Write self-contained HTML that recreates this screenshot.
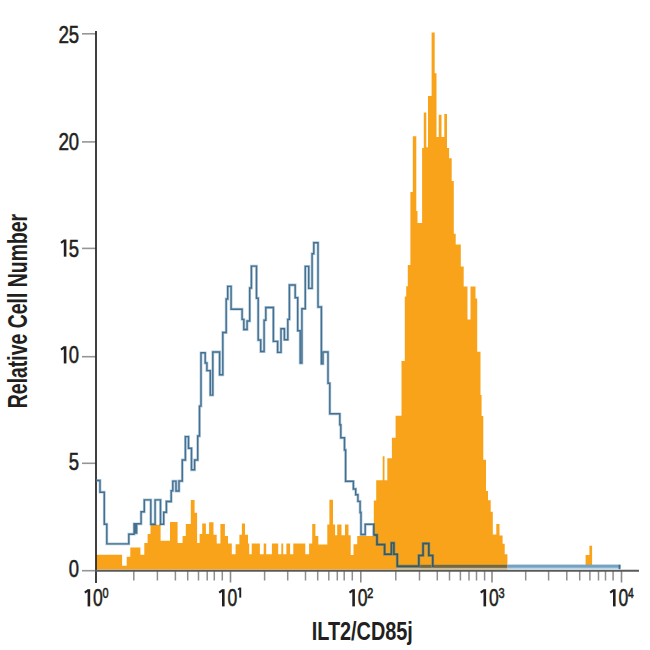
<!DOCTYPE html>
<html><head><meta charset="utf-8"><style>
html,body{margin:0;padding:0;background:#fff;}
body{width:650px;height:650px;position:relative;overflow:hidden;font-family:"Liberation Sans",sans-serif;color:#231f20;}
svg{position:absolute;left:0;top:0;}
</style></head><body>
<svg width="650" height="650" viewBox="0 0 650 650">
<path d="M96,569.5 L96,554.7 L122.1,554.7 L122.1,565.8 L126.7,565.8 L126.7,556.7 L130.3,556.7 L130.3,547.6 L140.4,547.6 L140.4,554.7 L144.3,554.7 L144.3,543 L147.6,543 L147.6,534 L150.5,534 L150.5,524.7 L160.6,524.7 L160.6,540.8 L170,540.8 L170,522.1 L177.6,522.1 L177.6,543 L182.6,543 L182.6,536 L185.8,536 L185.8,524 L190.8,524 L190.8,500.1 L194.6,500.1 L194.6,512.7 L197.1,512.7 L197.1,543 L199.6,543 L199.6,534.1 L202.2,534.1 L202.2,523.4 L205.9,523.4 L205.9,534.1 L209.1,534.1 L209.1,522.2 L213.5,522.2 L213.5,534.8 L216.7,534.8 L216.7,543.6 L220.4,543.6 L220.4,524 L224.9,524 L224.9,536 L228,536 L228,543.6 L231.8,543.6 L231.8,554.3 L235.6,554.3 L235.6,544.2 L239.4,544.2 L239.4,534.8 L241.9,534.8 L241.9,523.4 L245,523.4 L245,534.8 L248,534.8 L248,543.6 L249.2,543.6 L249.2,554.3 L251.7,554.3 L251.7,543.6 L259.9,543.6 L259.9,554.3 L263.7,554.3 L263.7,543.6 L266.2,543.6 L266.2,554.3 L271.9,554.3 L271.9,543.6 L278.2,543.6 L278.2,554.3 L281.3,554.3 L281.3,543.6 L283.2,543.6 L283.2,554.3 L286.4,554.3 L286.4,543.6 L290.1,543.6 L290.1,554.3 L293.3,554.3 L293.3,543.6 L305.3,543.6 L305.3,554.3 L309.1,554.3 L309.1,543.6 L312.2,543.6 L312.2,524 L315.4,524 L315.4,536 L318.3,536 L318.3,544.4 L327.3,544.4 L327.3,524.6 L329.4,524.6 L329.4,499.8 L333,499.8 L333,524.6 L335.1,524.6 L335.1,535.2 L337.2,535.2 L337.2,524.6 L341.5,524.6 L341.5,535.2 L345,535.2 L345,524.6 L348.5,524.6 L348.5,535.2 L350.7,535.2 L350.7,555 L353.5,555 L353.5,544.3 L357.2,544.3 L357.2,536 L373.8,536 L373.8,500.5 L376.2,500.5 L376.2,480.3 L382.7,480.3 L382.7,456.3 L384.5,456.3 L384.5,480.3 L387.3,480.3 L387.3,458.2 L391.9,458.2 L391.9,437.8 L395.6,437.8 L395.6,415.7 L401.5,415.7 L401.5,361 L404.8,361 L404.8,296.4 L406.2,296.4 L406.2,286.3 L407.8,286.3 L407.8,265 L410.4,265 L410.4,192.1 L412.8,192.1 L412.8,136.3 L416.3,136.3 L416.3,211 L417.5,211 L417.5,223 L422.1,223 L422.1,148.1 L423.8,148.1 L423.8,112.6 L426.3,112.6 L426.3,147.3 L428,147.3 L428,96 L431.6,96 L431.6,32.6 L434.7,32.6 L434.7,73.2 L436.5,73.2 L436.5,137.1 L438.7,137.1 L438.7,114.7 L441.5,114.7 L441.5,137.1 L444.3,137.1 L444.3,114 L447,114 L447,148.1 L449.1,148.1 L449.1,158.3 L451.7,158.3 L451.7,181.1 L453.8,181.1 L453.8,233.8 L455.7,233.8 L455.7,244.5 L460.8,244.5 L460.8,266.5 L463.7,266.5 L463.7,286.5 L467.5,286.5 L467.5,319.5 L470.5,319.5 L470.5,286.5 L475.5,286.5 L475.5,298.4 L477.2,298.4 L477.2,351.8 L480.5,351.8 L480.5,395 L481.6,395 L481.6,416.1 L483.3,416.1 L483.3,459.7 L486,459.7 L486,490.9 L488,490.9 L488,500.2 L490.7,500.2 L490.7,511.7 L492.8,511.7 L492.8,534.5 L496.3,534.5 L496.3,524.1 L499.5,524.1 L499.5,535.5 L502.6,535.5 L502.6,543.8 L504.7,543.8 L504.7,554.2 L507.4,554.2 L507.4,569.5 Z" fill="#f9a31b"/>
<path d="M585.6,565.5 L585.6,554.9 L589.4,554.9 L589.4,545.8 L592.1,545.8 L592.1,565.5 Z" fill="#f9a31b"/>
<line x1="133.8" y1="571" x2="133.8" y2="580.5" stroke="#8e8e8e" stroke-width="1.5"/><line x1="157.4" y1="571" x2="157.4" y2="580.5" stroke="#8e8e8e" stroke-width="1.5"/><line x1="175.4" y1="571" x2="175.4" y2="580.5" stroke="#8e8e8e" stroke-width="1.5"/><line x1="187.7" y1="571" x2="187.7" y2="580.5" stroke="#8e8e8e" stroke-width="1.5"/><line x1="198.5" y1="571" x2="198.5" y2="580.5" stroke="#8e8e8e" stroke-width="1.5"/><line x1="207.2" y1="571" x2="207.2" y2="580.5" stroke="#8e8e8e" stroke-width="1.5"/><line x1="214.3" y1="571" x2="214.3" y2="580.5" stroke="#8e8e8e" stroke-width="1.5"/><line x1="222.3" y1="571" x2="222.3" y2="580.5" stroke="#8e8e8e" stroke-width="1.5"/><line x1="264.6" y1="571" x2="264.6" y2="580.5" stroke="#8e8e8e" stroke-width="1.5"/><line x1="287.7" y1="571" x2="287.7" y2="580.5" stroke="#8e8e8e" stroke-width="1.5"/><line x1="305.5" y1="571" x2="305.5" y2="580.5" stroke="#8e8e8e" stroke-width="1.5"/><line x1="317.7" y1="571" x2="317.7" y2="580.5" stroke="#8e8e8e" stroke-width="1.5"/><line x1="328.8" y1="571" x2="328.8" y2="580.5" stroke="#8e8e8e" stroke-width="1.5"/><line x1="337.3" y1="571" x2="337.3" y2="580.5" stroke="#8e8e8e" stroke-width="1.5"/><line x1="344.2" y1="571" x2="344.2" y2="580.5" stroke="#8e8e8e" stroke-width="1.5"/><line x1="352.3" y1="571" x2="352.3" y2="580.5" stroke="#8e8e8e" stroke-width="1.5"/><line x1="395.8" y1="571" x2="395.8" y2="580.5" stroke="#8e8e8e" stroke-width="1.5"/><line x1="419.5" y1="571" x2="419.5" y2="580.5" stroke="#8e8e8e" stroke-width="1.5"/><line x1="437.3" y1="571" x2="437.3" y2="580.5" stroke="#8e8e8e" stroke-width="1.5"/><line x1="449.5" y1="571" x2="449.5" y2="580.5" stroke="#8e8e8e" stroke-width="1.5"/><line x1="460.4" y1="571" x2="460.4" y2="580.5" stroke="#8e8e8e" stroke-width="1.5"/><line x1="469.0" y1="571" x2="469.0" y2="580.5" stroke="#8e8e8e" stroke-width="1.5"/><line x1="476.5" y1="571" x2="476.5" y2="580.5" stroke="#8e8e8e" stroke-width="1.5"/><line x1="484.6" y1="571" x2="484.6" y2="580.5" stroke="#8e8e8e" stroke-width="1.5"/><line x1="525.7" y1="571" x2="525.7" y2="580.5" stroke="#8e8e8e" stroke-width="1.5"/><line x1="548.6" y1="571" x2="548.6" y2="580.5" stroke="#8e8e8e" stroke-width="1.5"/><line x1="566.8" y1="571" x2="566.8" y2="580.5" stroke="#8e8e8e" stroke-width="1.5"/><line x1="579.7" y1="571" x2="579.7" y2="580.5" stroke="#8e8e8e" stroke-width="1.5"/><line x1="589.9" y1="571" x2="589.9" y2="580.5" stroke="#8e8e8e" stroke-width="1.5"/><line x1="598.5" y1="571" x2="598.5" y2="580.5" stroke="#8e8e8e" stroke-width="1.5"/><line x1="605.5" y1="571" x2="605.5" y2="580.5" stroke="#8e8e8e" stroke-width="1.5"/><line x1="613.1" y1="571" x2="613.1" y2="580.5" stroke="#8e8e8e" stroke-width="1.5"/><line x1="230.5" y1="571" x2="230.5" y2="582.5" stroke="#8a8a8a" stroke-width="1.6"/><line x1="360.8" y1="571" x2="360.8" y2="582.5" stroke="#8a8a8a" stroke-width="1.6"/><line x1="492.0" y1="571" x2="492.0" y2="582.5" stroke="#8a8a8a" stroke-width="1.6"/><line x1="621.5" y1="571" x2="621.5" y2="582.5" stroke="#8a8a8a" stroke-width="1.6"/><line x1="82" y1="570.7" x2="96" y2="570.7" stroke="#959595" stroke-width="1.6"/><line x1="82" y1="463.3" x2="96" y2="463.3" stroke="#959595" stroke-width="1.6"/><line x1="82" y1="356.7" x2="96" y2="356.7" stroke="#959595" stroke-width="1.6"/><line x1="82" y1="248.4" x2="96" y2="248.4" stroke="#959595" stroke-width="1.6"/><line x1="82" y1="141.9" x2="96" y2="141.9" stroke="#959595" stroke-width="1.6"/><line x1="82" y1="33.8" x2="96" y2="33.8" stroke="#959595" stroke-width="1.6"/>
<line x1="96" y1="31" x2="96" y2="583" stroke="#2b2b2b" stroke-width="1.8"/>
<line x1="95" y1="570.7" x2="639" y2="570.7" stroke="#5a5a5a" stroke-width="2"/>
<defs><clipPath id="oc"><path d="M96,569.5 L96,554.7 L122.1,554.7 L122.1,565.8 L126.7,565.8 L126.7,556.7 L130.3,556.7 L130.3,547.6 L140.4,547.6 L140.4,554.7 L144.3,554.7 L144.3,543 L147.6,543 L147.6,534 L150.5,534 L150.5,524.7 L160.6,524.7 L160.6,540.8 L170,540.8 L170,522.1 L177.6,522.1 L177.6,543 L182.6,543 L182.6,536 L185.8,536 L185.8,524 L190.8,524 L190.8,500.1 L194.6,500.1 L194.6,512.7 L197.1,512.7 L197.1,543 L199.6,543 L199.6,534.1 L202.2,534.1 L202.2,523.4 L205.9,523.4 L205.9,534.1 L209.1,534.1 L209.1,522.2 L213.5,522.2 L213.5,534.8 L216.7,534.8 L216.7,543.6 L220.4,543.6 L220.4,524 L224.9,524 L224.9,536 L228,536 L228,543.6 L231.8,543.6 L231.8,554.3 L235.6,554.3 L235.6,544.2 L239.4,544.2 L239.4,534.8 L241.9,534.8 L241.9,523.4 L245,523.4 L245,534.8 L248,534.8 L248,543.6 L249.2,543.6 L249.2,554.3 L251.7,554.3 L251.7,543.6 L259.9,543.6 L259.9,554.3 L263.7,554.3 L263.7,543.6 L266.2,543.6 L266.2,554.3 L271.9,554.3 L271.9,543.6 L278.2,543.6 L278.2,554.3 L281.3,554.3 L281.3,543.6 L283.2,543.6 L283.2,554.3 L286.4,554.3 L286.4,543.6 L290.1,543.6 L290.1,554.3 L293.3,554.3 L293.3,543.6 L305.3,543.6 L305.3,554.3 L309.1,554.3 L309.1,543.6 L312.2,543.6 L312.2,524 L315.4,524 L315.4,536 L318.3,536 L318.3,544.4 L327.3,544.4 L327.3,524.6 L329.4,524.6 L329.4,499.8 L333,499.8 L333,524.6 L335.1,524.6 L335.1,535.2 L337.2,535.2 L337.2,524.6 L341.5,524.6 L341.5,535.2 L345,535.2 L345,524.6 L348.5,524.6 L348.5,535.2 L350.7,535.2 L350.7,555 L353.5,555 L353.5,544.3 L357.2,544.3 L357.2,536 L373.8,536 L373.8,500.5 L376.2,500.5 L376.2,480.3 L382.7,480.3 L382.7,456.3 L384.5,456.3 L384.5,480.3 L387.3,480.3 L387.3,458.2 L391.9,458.2 L391.9,437.8 L395.6,437.8 L395.6,415.7 L401.5,415.7 L401.5,361 L404.8,361 L404.8,296.4 L406.2,296.4 L406.2,286.3 L407.8,286.3 L407.8,265 L410.4,265 L410.4,192.1 L412.8,192.1 L412.8,136.3 L416.3,136.3 L416.3,211 L417.5,211 L417.5,223 L422.1,223 L422.1,148.1 L423.8,148.1 L423.8,112.6 L426.3,112.6 L426.3,147.3 L428,147.3 L428,96 L431.6,96 L431.6,32.6 L434.7,32.6 L434.7,73.2 L436.5,73.2 L436.5,137.1 L438.7,137.1 L438.7,114.7 L441.5,114.7 L441.5,137.1 L444.3,137.1 L444.3,114 L447,114 L447,148.1 L449.1,148.1 L449.1,158.3 L451.7,158.3 L451.7,181.1 L453.8,181.1 L453.8,233.8 L455.7,233.8 L455.7,244.5 L460.8,244.5 L460.8,266.5 L463.7,266.5 L463.7,286.5 L467.5,286.5 L467.5,319.5 L470.5,319.5 L470.5,286.5 L475.5,286.5 L475.5,298.4 L477.2,298.4 L477.2,351.8 L480.5,351.8 L480.5,395 L481.6,395 L481.6,416.1 L483.3,416.1 L483.3,459.7 L486,459.7 L486,490.9 L488,490.9 L488,500.2 L490.7,500.2 L490.7,511.7 L492.8,511.7 L492.8,534.5 L496.3,534.5 L496.3,524.1 L499.5,524.1 L499.5,535.5 L502.6,535.5 L502.6,543.8 L504.7,543.8 L504.7,554.2 L507.4,554.2 L507.4,569.5 Z"/></clipPath></defs>
<rect x="397" y="567.8" width="110.4" height="1.6" fill="#c2bda5"/>
<rect x="507.4" y="567.8" width="113.1" height="1.6" fill="#c0d6e4"/>
<rect x="397" y="564.8" width="110.4" height="3" fill="#6d6a4c"/>
<rect x="507.4" y="564.6" width="113.1" height="3.2" fill="#73a2c3"/>
<rect x="618.6" y="564.8" width="1.8" height="4.4" fill="#3d6c8c"/>
<path d="M96.3,480.5 L100,480.5 L100,492.2 L104.3,492.2 L104.3,524.2 L106.8,524.2 L106.8,543.9 L128.8,543.9 L128.8,534.2 L134.1,534.2 L134.1,523.8 L135.2,523.8 L135.2,533 L136.6,533 L136.6,523.8 L141.1,523.8 L141.1,511.8 L144.3,511.8 L144.3,499.9 L150.8,499.9 L150.8,524.2 L155.1,524.2 L155.1,499.9 L160.5,499.9 L160.5,524.2 L163.7,524.2 L163.7,512.3 L166.4,512.3 L166.4,501.5 L171.2,501.5 L171.2,490.8 L172.8,490.8 L172.8,481.1 L176,481.1 L176,491 L179,491 L179,481 L182.3,481 L182.3,460 L185.4,460 L185.4,436.6 L188.5,436.6 L188.5,448.3 L191.5,448.3 L191.5,469.8 L194.6,469.8 L194.6,460 L197.7,460 L197.7,436 L199.5,436 L199.5,406.1 L201,406.1 L201,352.8 L205.2,352.8 L205.2,363 L206.9,363 L206.9,370.6 L210.3,370.6 L210.3,395.1 L212.8,395.1 L212.8,352 L219.6,352 L219.6,374.8 L222.8,374.8 L222.8,332.5 L226.2,332.5 L226.2,299 L227.7,299 L227.7,286.4 L231.1,286.4 L231.1,309.2 L242.1,309.2 L242.1,319.4 L243.8,319.4 L243.8,329.5 L247.1,329.5 L247.1,321 L249.7,321 L249.7,288 L251.4,288 L251.4,266.1 L256.5,266.1 L256.5,298.2 L258.2,298.2 L258.2,340 L260.7,340 L260.7,351.5 L264.1,351.5 L264.1,320.2 L265.8,320.2 L265.8,307.5 L273.4,307.5 L273.4,341.4 L277.6,341.4 L277.6,352.4 L281,352.4 L281,328.7 L284.4,328.7 L284.4,339.7 L287.8,339.7 L287.8,319.4 L289.4,319.4 L289.4,285 L295.2,285 L295.2,297.7 L297.7,297.7 L297.7,330.7 L300.2,330.7 L300.2,363 L301.9,363 L301.9,308.7 L305.3,308.7 L305.3,266.4 L308.7,266.4 L308.7,288.4 L312.1,288.4 L312.1,253.7 L313.8,253.7 L313.8,242.7 L318,242.7 L318,307 L321.4,307 L321.4,363.8 L323,363.8 L323,352 L328,352 L328,383.3 L329.8,383.3 L329.8,413.8 L339.8,413.8 L339.8,424.8 L340.8,424.8 L340.8,437.8 L344.5,437.8 L344.5,450 L345.6,450 L345.6,481.3 L353.4,481.3 L353.4,489 L355.7,489 L355.7,494.7 L357.9,494.7 L357.9,501.4 L360.1,501.4 L360.1,512.5 L361,512.5 L361,534.5 L365.2,534.5 L365.2,524.3 L373.6,524.3 L373.6,534.9 L377,534.9 L377,544.6 L384.6,544.6 L384.6,554.3 L391.4,554.3 L391.4,542.9 L393.9,542.9 L393.9,554.3 L397.3,554.3 L397.3,566.3 L418.8,566.3 L418.8,555.4 L423.1,555.4 L423.1,543.5 L428.8,543.5 L428.8,555.4 L432.7,555.4 L432.7,566.3 L434,566.3 " fill="none" stroke="#6d9cc0" stroke-opacity="0.55" stroke-width="2.8" stroke-linejoin="miter"/>
<path d="M96.3,480.5 L100,480.5 L100,492.2 L104.3,492.2 L104.3,524.2 L106.8,524.2 L106.8,543.9 L128.8,543.9 L128.8,534.2 L134.1,534.2 L134.1,523.8 L135.2,523.8 L135.2,533 L136.6,533 L136.6,523.8 L141.1,523.8 L141.1,511.8 L144.3,511.8 L144.3,499.9 L150.8,499.9 L150.8,524.2 L155.1,524.2 L155.1,499.9 L160.5,499.9 L160.5,524.2 L163.7,524.2 L163.7,512.3 L166.4,512.3 L166.4,501.5 L171.2,501.5 L171.2,490.8 L172.8,490.8 L172.8,481.1 L176,481.1 L176,491 L179,491 L179,481 L182.3,481 L182.3,460 L185.4,460 L185.4,436.6 L188.5,436.6 L188.5,448.3 L191.5,448.3 L191.5,469.8 L194.6,469.8 L194.6,460 L197.7,460 L197.7,436 L199.5,436 L199.5,406.1 L201,406.1 L201,352.8 L205.2,352.8 L205.2,363 L206.9,363 L206.9,370.6 L210.3,370.6 L210.3,395.1 L212.8,395.1 L212.8,352 L219.6,352 L219.6,374.8 L222.8,374.8 L222.8,332.5 L226.2,332.5 L226.2,299 L227.7,299 L227.7,286.4 L231.1,286.4 L231.1,309.2 L242.1,309.2 L242.1,319.4 L243.8,319.4 L243.8,329.5 L247.1,329.5 L247.1,321 L249.7,321 L249.7,288 L251.4,288 L251.4,266.1 L256.5,266.1 L256.5,298.2 L258.2,298.2 L258.2,340 L260.7,340 L260.7,351.5 L264.1,351.5 L264.1,320.2 L265.8,320.2 L265.8,307.5 L273.4,307.5 L273.4,341.4 L277.6,341.4 L277.6,352.4 L281,352.4 L281,328.7 L284.4,328.7 L284.4,339.7 L287.8,339.7 L287.8,319.4 L289.4,319.4 L289.4,285 L295.2,285 L295.2,297.7 L297.7,297.7 L297.7,330.7 L300.2,330.7 L300.2,363 L301.9,363 L301.9,308.7 L305.3,308.7 L305.3,266.4 L308.7,266.4 L308.7,288.4 L312.1,288.4 L312.1,253.7 L313.8,253.7 L313.8,242.7 L318,242.7 L318,307 L321.4,307 L321.4,363.8 L323,363.8 L323,352 L328,352 L328,383.3 L329.8,383.3 L329.8,413.8 L339.8,413.8 L339.8,424.8 L340.8,424.8 L340.8,437.8 L344.5,437.8 L344.5,450 L345.6,450 L345.6,481.3 L353.4,481.3 L353.4,489 L355.7,489 L355.7,494.7 L357.9,494.7 L357.9,501.4 L360.1,501.4 L360.1,512.5 L361,512.5 L361,534.5 L365.2,534.5 L365.2,524.3 L373.6,524.3 L373.6,534.9 L377,534.9 L377,544.6 L384.6,544.6 L384.6,554.3 L391.4,554.3 L391.4,542.9 L393.9,542.9 L393.9,554.3 L397.3,554.3 L397.3,566.3 L418.8,566.3 L418.8,555.4 L423.1,555.4 L423.1,543.5 L428.8,543.5 L428.8,555.4 L432.7,555.4 L432.7,566.3 L434,566.3 " fill="none" stroke="#335f80" stroke-opacity="0.85" stroke-width="1.4" stroke-linejoin="miter"/>
<g clip-path="url(#oc)">
<path d="M96.3,480.5 L100,480.5 L100,492.2 L104.3,492.2 L104.3,524.2 L106.8,524.2 L106.8,543.9 L128.8,543.9 L128.8,534.2 L134.1,534.2 L134.1,523.8 L135.2,523.8 L135.2,533 L136.6,533 L136.6,523.8 L141.1,523.8 L141.1,511.8 L144.3,511.8 L144.3,499.9 L150.8,499.9 L150.8,524.2 L155.1,524.2 L155.1,499.9 L160.5,499.9 L160.5,524.2 L163.7,524.2 L163.7,512.3 L166.4,512.3 L166.4,501.5 L171.2,501.5 L171.2,490.8 L172.8,490.8 L172.8,481.1 L176,481.1 L176,491 L179,491 L179,481 L182.3,481 L182.3,460 L185.4,460 L185.4,436.6 L188.5,436.6 L188.5,448.3 L191.5,448.3 L191.5,469.8 L194.6,469.8 L194.6,460 L197.7,460 L197.7,436 L199.5,436 L199.5,406.1 L201,406.1 L201,352.8 L205.2,352.8 L205.2,363 L206.9,363 L206.9,370.6 L210.3,370.6 L210.3,395.1 L212.8,395.1 L212.8,352 L219.6,352 L219.6,374.8 L222.8,374.8 L222.8,332.5 L226.2,332.5 L226.2,299 L227.7,299 L227.7,286.4 L231.1,286.4 L231.1,309.2 L242.1,309.2 L242.1,319.4 L243.8,319.4 L243.8,329.5 L247.1,329.5 L247.1,321 L249.7,321 L249.7,288 L251.4,288 L251.4,266.1 L256.5,266.1 L256.5,298.2 L258.2,298.2 L258.2,340 L260.7,340 L260.7,351.5 L264.1,351.5 L264.1,320.2 L265.8,320.2 L265.8,307.5 L273.4,307.5 L273.4,341.4 L277.6,341.4 L277.6,352.4 L281,352.4 L281,328.7 L284.4,328.7 L284.4,339.7 L287.8,339.7 L287.8,319.4 L289.4,319.4 L289.4,285 L295.2,285 L295.2,297.7 L297.7,297.7 L297.7,330.7 L300.2,330.7 L300.2,363 L301.9,363 L301.9,308.7 L305.3,308.7 L305.3,266.4 L308.7,266.4 L308.7,288.4 L312.1,288.4 L312.1,253.7 L313.8,253.7 L313.8,242.7 L318,242.7 L318,307 L321.4,307 L321.4,363.8 L323,363.8 L323,352 L328,352 L328,383.3 L329.8,383.3 L329.8,413.8 L339.8,413.8 L339.8,424.8 L340.8,424.8 L340.8,437.8 L344.5,437.8 L344.5,450 L345.6,450 L345.6,481.3 L353.4,481.3 L353.4,489 L355.7,489 L355.7,494.7 L357.9,494.7 L357.9,501.4 L360.1,501.4 L360.1,512.5 L361,512.5 L361,534.5 L365.2,534.5 L365.2,524.3 L373.6,524.3 L373.6,534.9 L377,534.9 L377,544.6 L384.6,544.6 L384.6,554.3 L391.4,554.3 L391.4,542.9 L393.9,542.9 L393.9,554.3 L397.3,554.3 L397.3,566.3 L418.8,566.3 L418.8,555.4 L423.1,555.4 L423.1,543.5 L428.8,543.5 L428.8,555.4 L432.7,555.4 L432.7,566.3 L434,566.3 " fill="none" stroke="#7f8a60" stroke-opacity="0.6" stroke-width="2.8" stroke-linejoin="miter"/>
<path d="M96.3,480.5 L100,480.5 L100,492.2 L104.3,492.2 L104.3,524.2 L106.8,524.2 L106.8,543.9 L128.8,543.9 L128.8,534.2 L134.1,534.2 L134.1,523.8 L135.2,523.8 L135.2,533 L136.6,533 L136.6,523.8 L141.1,523.8 L141.1,511.8 L144.3,511.8 L144.3,499.9 L150.8,499.9 L150.8,524.2 L155.1,524.2 L155.1,499.9 L160.5,499.9 L160.5,524.2 L163.7,524.2 L163.7,512.3 L166.4,512.3 L166.4,501.5 L171.2,501.5 L171.2,490.8 L172.8,490.8 L172.8,481.1 L176,481.1 L176,491 L179,491 L179,481 L182.3,481 L182.3,460 L185.4,460 L185.4,436.6 L188.5,436.6 L188.5,448.3 L191.5,448.3 L191.5,469.8 L194.6,469.8 L194.6,460 L197.7,460 L197.7,436 L199.5,436 L199.5,406.1 L201,406.1 L201,352.8 L205.2,352.8 L205.2,363 L206.9,363 L206.9,370.6 L210.3,370.6 L210.3,395.1 L212.8,395.1 L212.8,352 L219.6,352 L219.6,374.8 L222.8,374.8 L222.8,332.5 L226.2,332.5 L226.2,299 L227.7,299 L227.7,286.4 L231.1,286.4 L231.1,309.2 L242.1,309.2 L242.1,319.4 L243.8,319.4 L243.8,329.5 L247.1,329.5 L247.1,321 L249.7,321 L249.7,288 L251.4,288 L251.4,266.1 L256.5,266.1 L256.5,298.2 L258.2,298.2 L258.2,340 L260.7,340 L260.7,351.5 L264.1,351.5 L264.1,320.2 L265.8,320.2 L265.8,307.5 L273.4,307.5 L273.4,341.4 L277.6,341.4 L277.6,352.4 L281,352.4 L281,328.7 L284.4,328.7 L284.4,339.7 L287.8,339.7 L287.8,319.4 L289.4,319.4 L289.4,285 L295.2,285 L295.2,297.7 L297.7,297.7 L297.7,330.7 L300.2,330.7 L300.2,363 L301.9,363 L301.9,308.7 L305.3,308.7 L305.3,266.4 L308.7,266.4 L308.7,288.4 L312.1,288.4 L312.1,253.7 L313.8,253.7 L313.8,242.7 L318,242.7 L318,307 L321.4,307 L321.4,363.8 L323,363.8 L323,352 L328,352 L328,383.3 L329.8,383.3 L329.8,413.8 L339.8,413.8 L339.8,424.8 L340.8,424.8 L340.8,437.8 L344.5,437.8 L344.5,450 L345.6,450 L345.6,481.3 L353.4,481.3 L353.4,489 L355.7,489 L355.7,494.7 L357.9,494.7 L357.9,501.4 L360.1,501.4 L360.1,512.5 L361,512.5 L361,534.5 L365.2,534.5 L365.2,524.3 L373.6,524.3 L373.6,534.9 L377,534.9 L377,544.6 L384.6,544.6 L384.6,554.3 L391.4,554.3 L391.4,542.9 L393.9,542.9 L393.9,554.3 L397.3,554.3 L397.3,566.3 L418.8,566.3 L418.8,555.4 L423.1,555.4 L423.1,543.5 L428.8,543.5 L428.8,555.4 L432.7,555.4 L432.7,566.3 L434,566.3 " fill="none" stroke="#3c585c" stroke-width="1.5" stroke-linejoin="miter"/>
</g>
<g font-family="Liberation Sans, sans-serif" fill="#231f20"><text transform="translate(68.66,42.98) scale(0.764,1)" font-size="24.29" stroke="#231f20" stroke-width="0.55">5</text><text transform="translate(58.55,42.98) scale(0.777,1)" font-size="24.29" stroke="#231f20" stroke-width="0.55">2</text><text transform="translate(68.68,149.76) scale(0.758,1)" font-size="24.29" stroke="#231f20" stroke-width="0.55">0</text><text transform="translate(58.55,149.76) scale(0.777,1)" font-size="24.29" stroke="#231f20" stroke-width="0.55">2</text><text transform="translate(68.66,256.54) scale(0.764,1)" font-size="24.29" stroke="#231f20" stroke-width="0.55">5</text><rect x="63.80" y="239.46" width="2.6" height="17.20"/><line x1="61.00" y1="242.90" x2="64.40" y2="240.32" stroke="#231f20" stroke-width="2.1"/><text transform="translate(68.68,363.32) scale(0.758,1)" font-size="24.29" stroke="#231f20" stroke-width="0.55">0</text><rect x="63.80" y="346.24" width="2.6" height="17.20"/><line x1="61.00" y1="349.68" x2="64.40" y2="347.10" stroke="#231f20" stroke-width="2.1"/><text transform="translate(68.66,470.10) scale(0.764,1)" font-size="24.29" stroke="#231f20" stroke-width="0.55">5</text><text transform="translate(68.68,576.88) scale(0.758,1)" font-size="24.29" stroke="#231f20" stroke-width="0.55">0</text><rect x="87.60" y="589.20" width="2.6" height="17.20"/><line x1="84.80" y1="592.64" x2="88.20" y2="590.06" stroke="#231f20" stroke-width="2.1"/><text transform="translate(93.06,606.28) scale(0.723,1)" font-size="24.29" stroke="#231f20" stroke-width="0.55">0</text><text transform="translate(102.52,597.53) scale(0.770,1)" font-size="14.12" stroke="#231f20" stroke-width="0.55">0</text><rect x="222.00" y="589.20" width="2.6" height="17.20"/><line x1="219.20" y1="592.64" x2="222.60" y2="590.06" stroke="#231f20" stroke-width="2.1"/><text transform="translate(227.46,606.28) scale(0.723,1)" font-size="24.29" stroke="#231f20" stroke-width="0.55">0</text><rect x="239.30" y="587.60" width="1.9" height="10.00"/><line x1="238.00" y1="589.60" x2="239.90" y2="588.10" stroke="#231f20" stroke-width="1.6"/><rect x="352.30" y="589.20" width="2.6" height="17.20"/><line x1="349.50" y1="592.64" x2="352.90" y2="590.06" stroke="#231f20" stroke-width="2.1"/><text transform="translate(357.76,606.28) scale(0.723,1)" font-size="24.29" stroke="#231f20" stroke-width="0.55">0</text><text transform="translate(367.08,597.53) scale(0.808,1)" font-size="14.12" stroke="#231f20" stroke-width="0.55">2</text><rect x="483.50" y="589.20" width="2.6" height="17.20"/><line x1="480.70" y1="592.64" x2="484.10" y2="590.06" stroke="#231f20" stroke-width="2.1"/><text transform="translate(488.96,606.28) scale(0.723,1)" font-size="24.29" stroke="#231f20" stroke-width="0.55">0</text><text transform="translate(498.43,597.53) scale(0.777,1)" font-size="14.12" stroke="#231f20" stroke-width="0.55">3</text><rect x="613.00" y="589.20" width="2.6" height="17.20"/><line x1="610.20" y1="592.64" x2="613.60" y2="590.06" stroke="#231f20" stroke-width="2.1"/><text transform="translate(618.46,606.28) scale(0.723,1)" font-size="24.29" stroke="#231f20" stroke-width="0.55">0</text><text transform="translate(628.11,597.53) scale(0.730,1)" font-size="14.12" stroke="#231f20" stroke-width="0.55">4</text><text transform="translate(362.3,640.4) scale(0.75,1)" text-anchor="middle" font-size="26.5" font-weight="bold">ILT2/CD85j</text><text transform="translate(27,311) rotate(-90) scale(0.72,1)" text-anchor="middle" font-size="27" font-weight="bold">Relative Cell Number</text></g>
</svg>
</body></html>
